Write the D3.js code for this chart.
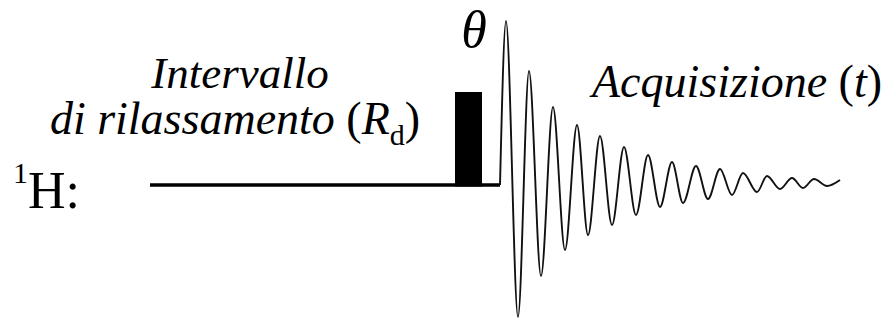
<!DOCTYPE html>
<html>
<head>
<meta charset="utf-8">
<script src="https://cdn.jsdelivr.net/npm/d3@7"></script>
<style>
  body { margin: 0; background: #fff; }
</style>
</head>
<body>
<div id="seq"></div>
<script>
var width = 890,
    height = 320;
var serif = "'Liberation Serif', 'Times New Roman', serif";

// sequence timing (arbitrary time units)
var delaySpan = [0, 350];      // relaxation delay, baseline up to acquisition
var pulseSpan = [305, 332];    // theta pulse
var pulseHeight = 93;
var acqStart = 350;

// FID extrema (time after acqStart, amplitude)
var fidTime = [0, 6, 18, 29, 41, 53, 65, 77, 88, 100, 112, 124, 136, 148, 160,
               172, 183, 196, 208, 220, 232, 243, 257, 267, 280, 292, 303, 314, 327, 340];
var fidAmp  = [0, 164, -132, 114, -91, 78, -65, 60, -50, 49, -40, 38, -30, 30, -22,
               23, -18, 19, -14, 16, -10, 12, -7, 9, -4, 7, -3, 6, -1, 5];

var x = d3.scaleLinear().domain([0, 690]).range([150, 840]);
var y = d3.scaleLinear().domain([-170, 170]).range([355, 15]);

var svg = d3.select("#seq")
    .append("svg")
    .attr("width", width)
    .attr("height", height)
    .style("font-family", serif);

/** baseline (relaxation delay) **/
svg.append("line")
    .attr("x1", x(delaySpan[0]))
    .attr("x2", x(delaySpan[1]))
    .attr("y1", y(0))
    .attr("y2", y(0))
    .style("stroke", "#000")
    .style("stroke-width", 3.5);

/** theta pulse **/
svg.append("rect")
    .attr("x", x(pulseSpan[0]))
    .attr("width", x(pulseSpan[1]) - x(pulseSpan[0]))
    .attr("y", y(pulseHeight))
    .attr("height", y(0) - y(pulseHeight) + 1.5)
    .style("fill", "#000");

/** FID **/
var fid = fidTime.map(function(t, i) { return [acqStart + t, fidAmp[i]]; });
svg.append("path")
    .datum(fid)
    .attr("d", d3.line()
        .x(function(d) { return x(d[0]); })
        .y(function(d) { return y(d[1]); })
        .curve(d3.curveMonotoneX))
    .style("fill", "none")
    .style("stroke", "#111")
    .style("stroke-width", 1.9)
    .style("stroke-linejoin", "round");

/** labels **/
// two-line delay label in one text element
var rd = svg.append("text")
    .attr("text-anchor", "middle")
    .style("font-family", serif)
    .style("font-size", "45px");
rd.append("tspan")
    .attr("x", 240).attr("y", 88)
    .style("font-style", "italic")
    .text("Intervallo");
var l2 = rd.append("tspan")
    .attr("x", 235).attr("y", 134)
    .style("font-size", "46px");
l2.append("tspan").style("font-style", "italic").text("di rilassamento ");
l2.append("tspan").text("(");
l2.append("tspan").style("font-style", "italic").text("R");
l2.append("tspan").attr("dy", 11).style("font-size", "30px").text("d");
l2.append("tspan").attr("dy", -11).text(")");

var h = svg.append("text")
    .attr("x", 13).attr("y", 208)
    .style("font-family", serif)
    .style("font-size", "52px");
h.append("tspan").attr("dy", -25).style("font-size", "30px").text("1");
h.append("tspan").attr("dy", 25).text("H:");

svg.append("text")
    .attr("x", 474).attr("y", 47)
    .attr("text-anchor", "middle")
    .style("font-family", serif)
    .style("font-size", "52px")
    .style("font-style", "italic")
    .text("θ");

var acq = svg.append("text")
    .attr("x", 592).attr("y", 97)
    .style("font-family", serif)
    .style("font-size", "46px");
acq.append("tspan").style("font-style", "italic").text("Acquisizione ");
acq.append("tspan").text("(");
acq.append("tspan").style("font-style", "italic").text("t");
acq.append("tspan").text(")");
</script>
</body>
</html>
